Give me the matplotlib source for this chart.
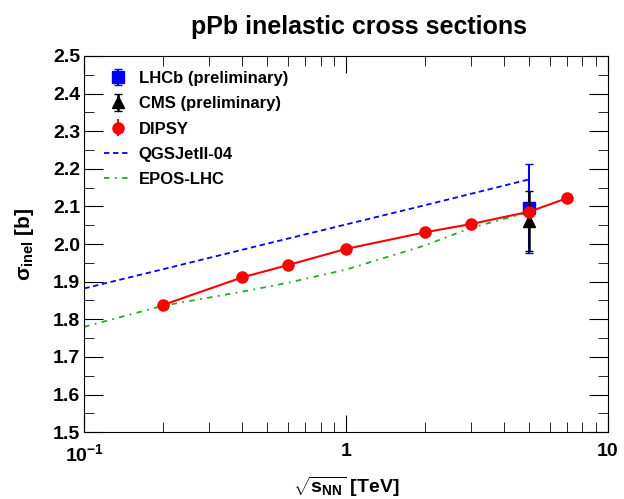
import numpy as np
import matplotlib
matplotlib.use("Agg")
import matplotlib.pyplot as plt
from matplotlib.ticker import FixedLocator, MultipleLocator, NullFormatter

plt.rcParams['font.family'] = ['Liberation Sans', 'DejaVu Sans']
plt.rcParams['font.weight'] = 'bold'
plt.rcParams['axes.labelweight'] = 'bold'
plt.rcParams['mathtext.fontset'] = 'custom'
plt.rcParams['mathtext.rm'] = 'Liberation Sans:bold'
plt.rcParams['mathtext.bf'] = 'Liberation Sans:bold'
plt.rcParams['mathtext.it'] = 'Liberation Sans:italic'
plt.rcParams['mathtext.sf'] = 'Liberation Sans'

# data
dipsy_x = [0.2, 0.4, 0.6, 1.0, 2.0, 3.0, 5.02, 7.0]
dipsy_y = [1.838, 1.911, 1.944, 1.987, 2.031, 2.053, 2.086, 2.122]

qgs_x = [0.1, 0.2, 0.5, 1.0, 2.0, 5.02]
qgs_y = [1.882, 1.933, 2.001, 2.052, 2.103, 2.172]

epos_x = [0.1, 0.2, 0.4, 0.6, 1.0, 2.0, 3.0, 5.02]
epos_y = [1.780, 1.836, 1.873, 1.897, 1.932, 1.996, 2.043, 2.085]

lhcb_x, lhcb_y, lhcb_err = [5.02], [2.095], [0.118]
cms_x, cms_y, cms_err = [5.02], [2.061], [0.080]

fig = plt.figure(figsize=(6.24, 4.99), dpi=100)
ax = fig.add_axes([0.135, 0.134, 0.839, 0.754])

ax.plot(qgs_x, qgs_y, color='blue', ls=(0, (3, 2)), lw=1.3, label='QGSJetII-04', zorder=2)
ax.plot(epos_x, epos_y, color='#22aa22', ls=(0, (3, 3, 1, 3)), lw=1.3, label='EPOS-LHC', zorder=2)

ax.errorbar(lhcb_x, lhcb_y, yerr=lhcb_err, fmt='s', color='blue', ms=8, capsize=3,
            elinewidth=1.5, label='LHCb (preliminary)', zorder=3)
ax.errorbar(cms_x, cms_y, yerr=cms_err, fmt='^', color='black', ms=9, capsize=3,
            elinewidth=1.8, label='CMS (preliminary)', zorder=4)
ax.plot(dipsy_x, dipsy_y, color='red', lw=1.5, zorder=5)
ax.errorbar(dipsy_x, dipsy_y, yerr=np.zeros(len(dipsy_x)), fmt='o', color='red', ms=8,
            label='DIPSY', zorder=6)

ax.set_xscale('log')
ax.set_xlim(0.1, 10)
ax.set_ylim(1.5, 2.5)

ax.xaxis.set_major_locator(FixedLocator([0.1, 1, 10]))
ax.set_xticklabels([r'$10^{-1}$', '1', '10'])
ax.xaxis.set_minor_locator(FixedLocator([k * 10.0 ** e for e in (-1, 0) for k in range(2, 10)]))
ax.xaxis.set_minor_formatter(NullFormatter())
ax.yaxis.set_major_locator(MultipleLocator(0.1))
ax.yaxis.set_minor_locator(MultipleLocator(0.05))
ax.yaxis.set_major_formatter(plt.FuncFormatter(lambda v, p: '%.1f' % v))

ax.tick_params(which='both', direction='in', top=True, right=True, labelsize=14)
ax.tick_params(which='major', axis='y', length=14)
ax.tick_params(which='minor', axis='y', length=7)
ax.tick_params(which='major', axis='x', length=12)
ax.tick_params(which='minor', axis='x', length=7)
ax.tick_params(axis='x', pad=8)
ax.tick_params(axis='y', pad=3)

ax.set_title('pPb inelastic cross sections', fontsize=18, fontweight='bold', pad=16, x=0.525)
ax.set_xlabel(r'$\sqrt{\mathbf{s_{NN}}}$ [TeV]', fontsize=14, fontweight='bold', labelpad=7)
ax.set_ylabel(r'$\mathsf{\sigma}_{\mathbf{inel}}$ [b]', fontsize=15, fontweight='bold', labelpad=12)

h, l = ax.get_legend_handles_labels()
order = [l.index(n) for n in ['LHCb (preliminary)', 'CMS (preliminary)', 'DIPSY', 'QGSJetII-04', 'EPOS-LHC']]
ax.legend([h[i] for i in order], [l[i] for i in order], loc='upper left',
          bbox_to_anchor=(0.01, 1.0), frameon=False, fontsize=12,
          handlelength=1.6, labelspacing=0.62, handletextpad=0.45)

fig.savefig('out.png', dpi=100)
